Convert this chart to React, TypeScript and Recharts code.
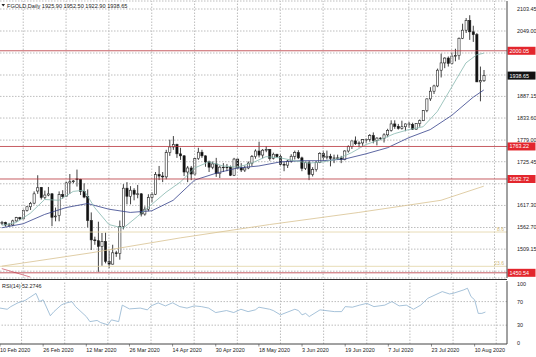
import React from "react"
import { ComposedChart, Bar, Line, XAxis, YAxis, CartesianGrid, ReferenceLine } from "recharts"

const W = 536
const MAIN_H = 279
const RSI_H = 78
const AXIS_W = 29
const SLOTS = 142 // bars + empty space on the right (chart shift)
const FONT = "'Liberation Sans', Arial, sans-serif"
const GRID = "#bdbdbd"

const DATE_LABELS = [
  "10 Feb 2020", "26 Feb 2020", "12 Mar 2020", "26 Mar 2020", "14 Apr 2020", "30 Apr 2020",
  "18 May 2020", "3 Jun 2020", "19 Jun 2020", "7 Jul 2020", "23 Jul 2020", "10 Aug 2020",
]

// daily candles, one value per bar
const OPEN = [
  1573, 1575, 1569, 1569, 1579, 1587, 1584, 1605, 1614, 1623, 1653, 1662,
  1637, 1643, 1646, 1589, 1592, 1644, 1640, 1673, 1676, 1683, 1682, 1652,
  1639, 1580, 1532, 1530, 1516, 1528, 1479, 1472, 1500, 1498, 1565, 1660,
  1640, 1655, 1645, 1646, 1596, 1608, 1637, 1645, 1694, 1690, 1688, 1748,
  1762, 1768, 1745, 1740, 1700, 1710, 1695, 1733, 1749, 1740, 1725, 1712,
  1720, 1696, 1712, 1711, 1712, 1692, 1732, 1710, 1705, 1710, 1722, 1738,
  1752, 1742, 1754, 1756, 1734, 1744, 1738, 1719, 1717, 1727, 1739, 1748,
  1735, 1709, 1723, 1694, 1706, 1724, 1746, 1736, 1739, 1734, 1735, 1735,
  1731, 1752, 1763, 1777, 1770, 1772, 1780, 1781, 1790, 1778, 1784, 1783,
  1792, 1803, 1819, 1813, 1808, 1812, 1819, 1818, 1806, 1820, 1827, 1852,
  1881, 1900, 1913, 1952, 1970, 1982, 1969, 1987, 1988, 2031, 2051, 2075,
  2047, 2040, 1923, 1925.9,
]
const HIGH = [
  1579, 1577, 1574, 1582, 1589, 1589, 1607, 1615, 1626, 1652, 1692, 1663,
  1654, 1663, 1648, 1612, 1652, 1655, 1676, 1695, 1680, 1706, 1683, 1672,
  1657, 1600, 1540, 1577, 1549, 1550, 1505, 1520, 1505, 1580, 1670, 1675,
  1665, 1660, 1668, 1648, 1615, 1645, 1650, 1700, 1715, 1700, 1755, 1780,
  1789, 1770, 1760, 1742, 1715, 1715, 1735, 1760, 1755, 1741, 1728, 1726,
  1735, 1716, 1722, 1720, 1716, 1735, 1733, 1722, 1716, 1726, 1742, 1756,
  1775, 1757, 1764, 1757, 1748, 1745, 1745, 1726, 1730, 1744, 1753, 1754,
  1738, 1726, 1728, 1712, 1727, 1749, 1753, 1753, 1745, 1743, 1743, 1740,
  1754, 1766, 1777, 1788, 1776, 1781, 1783, 1794, 1798, 1786, 1786, 1796,
  1807, 1828, 1828, 1819, 1827, 1820, 1824, 1822, 1821, 1830, 1853, 1882,
  1910, 1916, 1956, 1993, 1984, 1986, 1996, 2005, 2033, 2067, 2081, 2088,
  2062, 2044, 1961, 1952.5,
]
const LOW = [
  1569, 1565, 1565, 1566, 1577, 1581, 1583, 1602, 1606, 1620, 1646, 1632,
  1633, 1640, 1566, 1578, 1578, 1634, 1638, 1646, 1672, 1664, 1643, 1635,
  1563, 1507, 1520, 1453, 1468, 1474, 1462, 1471, 1490, 1483, 1558, 1620,
  1620, 1630, 1635, 1590, 1592, 1603, 1625, 1643, 1680, 1675, 1682, 1740,
  1755, 1735, 1730, 1690, 1675, 1680, 1690, 1730, 1735, 1713, 1700, 1707,
  1688, 1685, 1700, 1702, 1690, 1690, 1706, 1700, 1700, 1707, 1715, 1733,
  1736, 1734, 1749, 1728, 1731, 1735, 1716, 1702, 1710, 1723, 1731, 1732,
  1702, 1705, 1680, 1689, 1701, 1722, 1727, 1731, 1714, 1722, 1730, 1722,
  1729, 1748, 1757, 1767, 1761, 1765, 1771, 1775, 1771, 1766, 1779, 1773,
  1786, 1800, 1807, 1805, 1805, 1801, 1809, 1804, 1805, 1812, 1826, 1848,
  1876, 1893, 1910, 1934, 1957, 1961, 1966, 1974, 1978, 2029, 2044, 2027,
  2022, 1923, 1875, 1922.9,
]
const CLOSE = [
  1575, 1569, 1569, 1579, 1587, 1584, 1605, 1614, 1622, 1646, 1661, 1637,
  1643, 1646, 1588, 1591, 1644, 1639, 1673, 1676, 1678, 1682, 1652, 1638,
  1580, 1532, 1530, 1516, 1528, 1479, 1472, 1500, 1498, 1565, 1660, 1640,
  1655, 1645, 1646, 1596, 1608, 1637, 1645, 1694, 1690, 1688, 1748, 1762,
  1768, 1745, 1740, 1700, 1710, 1695, 1733, 1749, 1740, 1725, 1712, 1720,
  1696, 1712, 1711, 1712, 1692, 1732, 1710, 1705, 1710, 1722, 1738, 1752,
  1742, 1754, 1756, 1734, 1744, 1738, 1719, 1717, 1727, 1739, 1748, 1735,
  1709, 1723, 1694, 1706, 1724, 1746, 1736, 1739, 1734, 1735, 1735, 1731,
  1752, 1763, 1777, 1770, 1772, 1780, 1781, 1790, 1778, 1784, 1783, 1792,
  1803, 1819, 1813, 1808, 1812, 1819, 1818, 1806, 1820, 1827, 1852, 1881,
  1900, 1913, 1952, 1970, 1982, 1969, 1987, 1988, 2031, 2051, 2075, 2047,
  2040, 1923, 1926, 1938.65,
]

// moving averages at some bars
const FAST_IDX = [0, 4, 8, 12, 16, 20, 23, 26, 30, 34, 38, 42, 46, 50, 54, 58, 62, 66, 70, 74, 78, 82, 86, 90, 94, 98, 102, 106, 110, 114, 118, 122, 126, 130, 133, 135]
const FAST_MA = [1568, 1575, 1598, 1632, 1630, 1652, 1655, 1612, 1570, 1561, 1590, 1620, 1650, 1675, 1710, 1725, 1715, 1712, 1722, 1738, 1735, 1728, 1722, 1725, 1732, 1748, 1768, 1780, 1795, 1805, 1812, 1850, 1910, 1970, 1990, 1994]
const SLOW_IDX = [0, 6, 12, 18, 24, 30, 36, 42, 48, 54, 60, 66, 72, 78, 84, 90, 96, 102, 108, 114, 120, 126, 132, 135]
const SLOW_MA = [1562, 1572, 1595, 1612, 1622, 1608, 1600, 1604, 1630, 1680, 1697, 1710, 1715, 1725, 1728, 1728, 1732, 1745, 1760, 1785, 1805, 1840, 1885, 1903]
const LONG_IDX = [0, 25, 50, 75, 100, 123, 135]
const LONG_MA = [1467, 1500, 1537, 1570, 1600, 1630, 1665]

// RSI(14)
const RSI_IDX = [0, 2, 3, 5, 7, 8, 10, 11, 12, 14, 15, 17, 18, 20, 21, 24, 25, 27, 28, 30, 31, 33, 34, 36, 39, 41, 42, 44, 46, 48, 50, 52, 54, 56, 58, 60, 63, 65, 67, 69, 71, 72, 75, 76, 78, 82, 83, 84, 85, 86, 89, 93, 95, 96, 98, 100, 102, 104, 107, 109, 111, 113, 115, 117, 119, 123, 125, 126, 129, 130, 131, 132, 133, 134, 135]
const RSI_VAL = [59, 57, 61.5, 68, 72, 76, 84, 70, 73, 46, 53, 64, 67, 70, 61.5, 44.6, 36, 38, 34.4, 30.5, 39, 36, 64, 57.6, 59, 56, 62.7, 67.8, 62.7, 68, 61.5, 59, 62.7, 61.5, 59, 51.4, 54.8, 51.4, 57, 53, 56, 60.5, 57, 54.8, 47.5, 57, 54.8, 47.5, 50, 44.6, 56, 53, 53, 61.5, 60.5, 64, 67, 61.5, 64, 70, 62.7, 64, 57, 64, 75.7, 87, 83, 84, 90, 92.7, 78.5, 73, 50, 50, 52.27]

const PRICE_TICKS = [2103.45, 2049.0, 1994.55, 1940.1, 1887.15, 1833.6, 1779.0, 1725.45, 1670.85, 1617.3, 1562.7, 1509.15, 1454.55]
const HIDDEN_TICKS = [1994.55, 1940.1, 1670.85, 1454.55]
const LEVELS = [2000.05, 1763.22, 1682.72, 1450.54]
const FIB_LEVELS = [1551.5, 1466.6]
const FIB_LABELS = ["8.6", "23.6"]
const LAST_PRICE = 1938.65
const TREND = [{ i: 0, p: 1461 }, { i: 8, p: 1440 }]
const GRID_IDX = [6, 18, 30, 42, 54, 66, 78, 90, 102, 114, 126, 138]

const rows: any[] = Array.from({ length: SLOTS }, (_, i) => ({
  i,
  o: OPEN[i] ?? null,
  h: HIGH[i] ?? null,
  l: LOW[i] ?? null,
  c: CLOSE[i] ?? null,
  fast: null,
  slow: null,
  long: null,
  rsi: null,
}))
FAST_IDX.forEach((b, k) => (rows[b].fast = FAST_MA[k]))
SLOW_IDX.forEach((b, k) => (rows[b].slow = SLOW_MA[k]))
LONG_IDX.forEach((b, k) => (rows[b].long = LONG_MA[k]))
RSI_IDX.forEach((b, k) => (rows[b].rsi = RSI_VAL[k]))

const Candle = (props: any) => {
  const { x, y, width, height, payload } = props
  if (payload == null || payload.o == null) return null
  const { o, h, l, c } = payload
  const top = Math.min(y, y + height)
  const span = Math.abs(height)
  const range = h - l || 1
  const py = (p: number) => top + ((h - p) / range) * span
  const cx = x + width / 2
  const bTop = py(Math.max(o, c))
  const bBot = py(Math.min(o, c))
  const bull = c >= o
  const bw = 2.2
  return (
    <g>
      <line x1={cx} x2={cx} y1={top} y2={top + span} stroke="#111" strokeWidth={0.8} />
      <rect
        x={cx - bw / 2}
        y={bTop}
        width={bw}
        height={Math.max(bBot - bTop, 0.6)}
        fill={bull ? "#ffffff" : "#111"}
        stroke="#222"
        strokeWidth={0.6}
      />
    </g>
  )
}

const PriceTick = (props: any) => {
  const { x, y, payload } = props
  if (HIDDEN_TICKS.includes(payload.value)) return null
  return (
    <text x={x + 2} y={y + 2} fontSize={5.4} fontFamily={FONT} fill="#222">
      {payload.value.toFixed(2)}
    </text>
  )
}

const RsiTick = (props: any) => {
  const { x, y, payload } = props
  return (
    <text x={x + 2} y={y + 2} fontSize={5.4} fontFamily={FONT} fill="#222">
      {payload.value}
    </text>
  )
}

const DateTick = (props: any) => {
  const { x, y, payload } = props
  const label = DATE_LABELS[Math.round(payload.value / 12)]
  if (!label) return null
  return (
    <g>
      <line x1={x} x2={x} y1={y - 8} y2={y - 5.5} stroke="#444" strokeWidth={0.6} />
      <text x={x} y={y - 0.5} fontSize={5.4} fontFamily={FONT} fill="#222">
        {label}
      </text>
    </g>
  )
}

const Tag = (props: any) => {
  const { viewBox, text, bg } = props
  if (!viewBox) return null
  const xx = viewBox.x + viewBox.width + 0.5
  const yy = viewBox.y
  return (
    <g>
      <rect x={xx} y={yy - 4} width={28} height={8} fill={bg} />
      <text x={xx + 2} y={yy + 2} fontSize={5.4} fontFamily={FONT} fill="#fff">
        {text}
      </text>
    </g>
  )
}

const FibLabel = (props: any) => {
  const { viewBox, text } = props
  if (!viewBox) return null
  return (
    <text x={viewBox.x + viewBox.width - 3} y={viewBox.y - 1.5} fontSize={5} fontFamily={FONT} fill="#d2b878" textAnchor="end">
      {text}
    </text>
  )
}

export default function App() {
  return (
    <div style={{ position: "absolute", left: 0, top: 0, width: W, height: 357, background: "#fff", overflow: "hidden" }}>
      <div style={{ position: "absolute", left: 0, top: 0 }}>
        <ComposedChart width={W} height={MAIN_H} data={rows} margin={{ top: 1, right: 0, bottom: 1, left: 0 }} barCategoryGap={0}>
          <CartesianGrid vertical={false} stroke={GRID} strokeDasharray="1.5 1.5" />
          <XAxis dataKey="i" hide />
          <YAxis
            orientation="right"
            width={AXIS_W}
            domain={[1437.7, 2123.25]}
            ticks={PRICE_TICKS}
            interval={0}
            allowDataOverflow
            tick={<PriceTick />}
            tickLine={false}
            axisLine={{ stroke: "#444" }}
          />
          {GRID_IDX.map((g) => (
            <ReferenceLine key={"g" + g} x={g} stroke={GRID} strokeDasharray="1.5 1.5" ifOverflow="visible" />
          ))}
          {FIB_LEVELS.map((f, k) => (
            <ReferenceLine key={"f" + k} y={f} stroke="#e2d3a4" strokeWidth={0.8} label={<FibLabel text={FIB_LABELS[k]} />} />
          ))}
          <ReferenceLine segment={[{ x: TREND[0].i, y: TREND[0].p }, { x: TREND[1].i, y: TREND[1].p }]} stroke="#d06070" strokeWidth={0.8} />
          <Line dataKey="long" stroke="#d8c290" strokeWidth={0.8} dot={false} connectNulls isAnimationActive={false} />
          <Bar dataKey={(d: any) => (d.o == null ? null : [d.l, d.h])} shape={<Candle />} isAnimationActive={false} />
          <Line dataKey="slow" stroke="#34408a" strokeWidth={0.8} dot={false} connectNulls isAnimationActive={false} />
          <Line dataKey="fast" stroke="#86b8ae" strokeWidth={0.8} dot={false} connectNulls isAnimationActive={false} />
          {LEVELS.map((lv) => (
            <ReferenceLine key={"l" + lv} y={lv} stroke="#b8333b" strokeWidth={0.8} label={<Tag text={lv.toFixed(2)} bg="#e3262d" />} />
          ))}
          <ReferenceLine y={LAST_PRICE} stroke="none" label={<Tag text={LAST_PRICE.toFixed(2)} bg="#111" />} />
        </ComposedChart>
      </div>
      <div style={{ position: "absolute", left: 0, top: 278.5, width: 507, height: 1.6, background: "#333" }} />
      <div style={{ position: "absolute", left: 0, top: MAIN_H }}>
        <ComposedChart width={W} height={RSI_H} data={rows} margin={{ top: 2, right: 0, bottom: 0, left: 0 }}>
          <XAxis
            dataKey="i"
            interval={11}
            height={13}
            tick={<DateTick />}
            tickLine={false}
            axisLine={{ stroke: "#444" }}
          />
          <YAxis
            orientation="right"
            width={AXIS_W}
            domain={[-2, 105]}
            ticks={[0, 30, 70, 100]}
            interval={0}
            allowDataOverflow
            tick={<RsiTick />}
            tickLine={false}
            axisLine={{ stroke: "#444" }}
          />
          {GRID_IDX.map((g) => (
            <ReferenceLine key={"rg" + g} x={g} stroke={GRID} strokeDasharray="1.5 1.5" ifOverflow="visible" />
          ))}
          <ReferenceLine y={70} stroke={GRID} strokeDasharray="1.5 1.5" />
          <ReferenceLine y={30} stroke={GRID} strokeDasharray="1.5 1.5" />
          <Line dataKey="rsi" stroke="#8fb2cf" strokeWidth={0.8} dot={false} connectNulls isAnimationActive={false} />
        </ComposedChart>
      </div>
      <svg width={W} height={357} style={{ position: "absolute", left: 0, top: 0, pointerEvents: "none" }}>
        <path d="M1.5 4 L5 4 L3.25 6.5 Z" fill="#222" />
        <text x={7} y={7.5} fontSize={5.6} fontFamily={FONT} fill="#222">
          FGOLD,Daily  1925.90 1952.50 1922.90 1938.65
        </text>
        <text x={2} y={287.5} fontSize={5.4} fontFamily={FONT} fill="#222">
          RSI(14) 52.2746
        </text>
      </svg>
    </div>
  )
}
